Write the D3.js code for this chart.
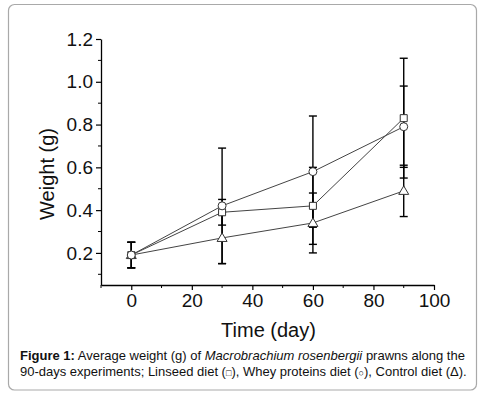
<!DOCTYPE html>
<html>
<head>
<meta charset="utf-8">
<script src="https://cdn.jsdelivr.net/npm/d3@7"></script>
<style>
    html, body { margin: 0; padding: 0; background: #fff; }
    svg { display: block; font-family: "Liberation Sans", Arial, sans-serif; }
</style>
</head>
<body>
<div id="chart"></div>
<script>
// ===========================
// Prawn weight chart
// Line + error bars for three diets
// ===========================

const days = [0, 30, 60, 90];

const linseed = [0.19, 0.39, 0.42, 0.83];
const linseedErr = [0.06, 0.06, 0.18, 0.28];

const whey = [0.19, 0.42, 0.58, 0.79];
const wheyErr = [0.06, 0.27, 0.26, 0.19];

const control = [0.19, 0.27, 0.34, 0.49];
const controlErr = [0.06, 0.12, 0.14, 0.12];

const xTicks = [0, 20, 40, 60, 80, 100];
const xMinor = [-10, 10, 30, 50, 70, 90];
const yTicks = [0.2, 0.4, 0.6, 0.8, 1.0, 1.2];
const yMinor = [0.1, 0.3, 0.5, 0.7, 0.9, 1.1];

// drawn in this order, circle ends up on top
const series = [
    { name: 'Control', values: control, err: controlErr, shape: 'triangle' },
    { name: 'Linseed', values: linseed, err: linseedErr, shape: 'square' },
    { name: 'Whey', values: whey, err: wheyErr, shape: 'circle' }
];

const width = 488, height = 395;
const plot = { left: 101, right: 434, top: 39, bottom: 285 };

const svg = d3.select('#chart')
    .append('svg')
    .attr('width', width)
    .attr('height', height);

// frame
svg.append('rect')
    .attr('x', 8.5).attr('y', 4.5)
    .attr('width', 468).attr('height', 385.5)
    .attr('rx', 6)
    .attr('fill', 'none')
    .attr('stroke', '#a9a9a9')
    .attr('stroke-width', 1.2);

const x = d3.scaleLinear().domain([-10, 100]).range([plot.left, plot.right]);
const y = d3.scaleLinear().domain([0.05, 1.2]).range([plot.bottom, plot.top]);

// axes
const xAxis = svg.append('g')
    .attr('transform', `translate(0,${plot.bottom})`)
    .call(d3.axisBottom(x).tickValues(xTicks).tickSize(5).tickSizeOuter(0).tickFormat(d3.format('d')));
xAxis.append('g').selectAll('line')
    .data(xMinor)
    .join('line')
    .attr('x1', d => x(d)).attr('x2', d => x(d))
    .attr('y1', 0).attr('y2', 3)
    .attr('stroke', '#000');

const yAxis = svg.append('g')
    .attr('transform', `translate(${plot.left},0)`)
    .call(d3.axisLeft(y).tickValues(yTicks).tickSize(5).tickSizeOuter(0).tickFormat(d3.format('.1f')));
yAxis.append('g').selectAll('line')
    .data(yMinor)
    .join('line')
    .attr('y1', d => y(d)).attr('y2', d => y(d))
    .attr('x1', 0).attr('x2', -3)
    .attr('stroke', '#000');

svg.selectAll('.domain').attr('stroke', '#000').attr('stroke-width', 1.3);
svg.selectAll('.tick line').attr('stroke', '#000').attr('stroke-width', 1.2);
svg.selectAll('.tick text')
    .attr('font-size', '19px')
    .attr('font-family', '"Liberation Sans", Arial, sans-serif')
    .attr('fill', '#111');
xAxis.selectAll('.tick text').attr('dy', null).attr('y', 21.5);
yAxis.selectAll('.tick text').attr('x', -8);

// axis titles
svg.append('text')
    .attr('x', (plot.left + plot.right) / 2 + 1)
    .attr('y', 336.5)
    .attr('text-anchor', 'middle')
    .attr('font-size', '20px')
    .attr('fill', '#111')
    .text('Time (day)');

svg.append('text')
    .attr('transform', 'translate(53.5,174) rotate(-90)')
    .attr('text-anchor', 'middle')
    .attr('font-size', '20px')
    .attr('fill', '#111')
    .text('Weight (g)');

// lines
const line = d3.line()
    .x((d, i) => x(days[i]))
    .y(d => y(d));

svg.append('g').selectAll('path')
    .data(series)
    .join('path')
    .attr('d', d => line(d.values))
    .attr('fill', 'none')
    .attr('stroke', '#444')
    .attr('stroke-width', 1);

// error bars
const bars = series.flatMap(s => s.values.map((v, i) => ({ day: days[i], v, e: s.err[i] })));

const bar = svg.append('g').selectAll('g')
    .data(bars)
    .join('g')
    .attr('stroke', '#000')
    .attr('stroke-width', 1.4);

bar.append('line')
    .attr('x1', d => x(d.day)).attr('x2', d => x(d.day))
    .attr('y1', d => y(d.v + d.e)).attr('y2', d => y(d.v - d.e));
bar.append('line')
    .attr('x1', d => x(d.day) - 4).attr('x2', d => x(d.day) + 4)
    .attr('y1', d => y(d.v + d.e)).attr('y2', d => y(d.v + d.e));
bar.append('line')
    .attr('x1', d => x(d.day) - 4).attr('x2', d => x(d.day) + 4)
    .attr('y1', d => y(d.v - d.e)).attr('y2', d => y(d.v - d.e));

// markers
function markerPath(shape) {
    if (shape === 'square') return 'M-3.5,-3.5H3.5V3.5H-3.5Z';
    if (shape === 'triangle') return 'M0,-5L5,3.5H-5Z';
    return 'M4,0A4,4 0 1,1 -4,0A4,4 0 1,1 4,0Z';
}

const points = series.flatMap(s => s.values.map((v, i) => ({ day: days[i], v, shape: s.shape })));

svg.append('g').selectAll('path')
    .data(points)
    .join('path')
    .attr('transform', d => `translate(${x(d.day)},${y(d.v)})`)
    .attr('d', d => markerPath(d.shape))
    .attr('fill', '#fff')
    .attr('stroke', '#333')
    .attr('stroke-width', 1);

// caption
const caption = svg.append('text')
    .attr('font-size', '13px')
    .attr('fill', '#111');

const line1 = caption.append('tspan').attr('x', 20).attr('y', 359.5);
line1.append('tspan').attr('font-weight', 'bold').text('Figure 1:');
line1.append('tspan').text(' Average weight (g) of ');
line1.append('tspan').attr('font-style', 'italic').text('Macrobrachium rosenbergii');
line1.append('tspan').text(' prawns along the');

const line2 = caption.append('tspan').attr('x', 20).attr('y', 375.5);
line2.append('tspan').text('90-days experiments; Linseed diet (');
line2.append('tspan').attr('font-size', '9px').text('\u25A1');
line2.append('tspan').text('), Whey proteins diet (');
line2.append('tspan').attr('font-size', '9px').text('\u25CB');
line2.append('tspan').text('), Control diet (\u0394).');
</script>
</body>
</html>
